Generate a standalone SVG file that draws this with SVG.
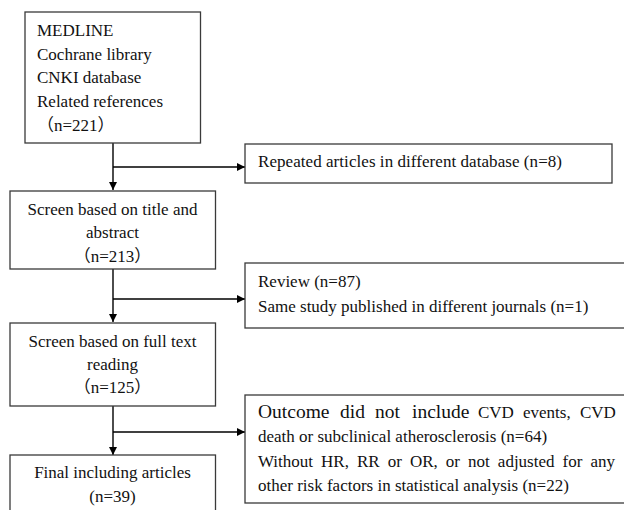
<svg xmlns="http://www.w3.org/2000/svg" width="624" height="510" viewBox="0 0 624 510">
<defs>
<marker id="ah" viewBox="0 0 10 10" refX="10" refY="5" markerWidth="10" markerHeight="8" markerUnits="userSpaceOnUse" orient="auto">
<path d="M0,0 L10,5 L0,10 z" fill="#000"/>
</marker>
<style>
.box{fill:#fff;stroke:#3a3a3a;stroke-width:1.3}
.t{font-family:"Liberation Serif","Noto Sans CJK SC",serif;font-size:17px;fill:#111}
.cjk{font-family:"Noto Sans CJK SC","Noto Sans CJK JP",sans-serif}
.big{font-size:19.5px}
.c{text-anchor:middle}
.ln{stroke:#000;stroke-width:1.4;fill:none}
</style>
</defs>
<rect width="624" height="510" fill="#fff"/>
<g id="connectors">
<path class="ln" d="M113,143 V190" marker-end="url(#ah)"/>
<path class="ln" d="M113,167 H245" marker-end="url(#ah)"/>
<path class="ln" d="M113,269 V322" marker-end="url(#ah)"/>
<path class="ln" d="M113,299 H245" marker-end="url(#ah)"/>
<path class="ln" d="M113,406 V455" marker-end="url(#ah)"/>
<path class="ln" d="M113,432 H245" marker-end="url(#ah)"/>
</g>
<g id="sources">
<rect class="box" x="25" y="12" width="175.5" height="131"/>
<text class="t" x="37" y="36">MEDLINE</text>
<text class="t" x="37" y="60">Cochrane library</text>
<text class="t" x="37" y="83">CNKI database</text>
<text class="t" x="37" y="107">Related references</text>
<text class="t" x="37" y="131"><tspan class="cjk">（</tspan>n=221<tspan class="cjk">）</tspan></text>
</g>
<g id="screen-title">
<rect class="box" x="10" y="191" width="205.5" height="78"/>
<text class="t c" x="112.5" y="215">Screen based on title and</text>
<text class="t c" x="112.5" y="238">abstract</text>
<text class="t c" x="112.5" y="262"><tspan class="cjk">（</tspan>n=213<tspan class="cjk">）</tspan></text>
</g>
<g id="screen-full">
<rect class="box" x="10" y="323" width="205.5" height="83"/>
<text class="t c" x="112.5" y="347">Screen based on full text</text>
<text class="t c" x="112.5" y="370">reading</text>
<text class="t c" x="112.5" y="393"><tspan class="cjk">（</tspan>n=125<tspan class="cjk">）</tspan></text>
</g>
<g id="final">
<rect class="box" x="10" y="455" width="205.5" height="60"/>
<text class="t c" x="112.5" y="478">Final including articles</text>
<text class="t c" x="112.5" y="502">(n=39)</text>
</g>
<g id="excl-repeated">
<rect class="box" x="245" y="144" width="367" height="39"/>
<text class="t" x="258" y="167" textLength="304" lengthAdjust="spacing">Repeated articles in different database (n=8)</text>
</g>
<g id="excl-review">
<rect class="box" x="245" y="263" width="390" height="65"/>
<text class="t" x="258" y="287">Review (n=87)</text>
<text class="t" x="258" y="312">Same study published in different journals (n=1)</text>
</g>
<g id="excl-outcome">
<rect class="box" x="245" y="395" width="390" height="108"/>
<text class="t" y="418"><tspan class="big" x="258">Outcome</tspan><tspan class="big" x="340">did</tspan><tspan class="big" x="375">not</tspan><tspan class="big" x="412">include</tspan><tspan x="478">CVD</tspan><tspan x="523">events,</tspan><tspan x="580">CVD</tspan></text>
<text class="t" x="258" y="442">death or subclinical atherosclerosis (n=64)</text>
<text class="t" x="258" y="467" word-spacing="3.8">Without HR, RR or OR, or not adjusted for any</text>
<text class="t" x="258" y="491">other risk factors in statistical analysis (n=22)</text>
</g>
</svg>
